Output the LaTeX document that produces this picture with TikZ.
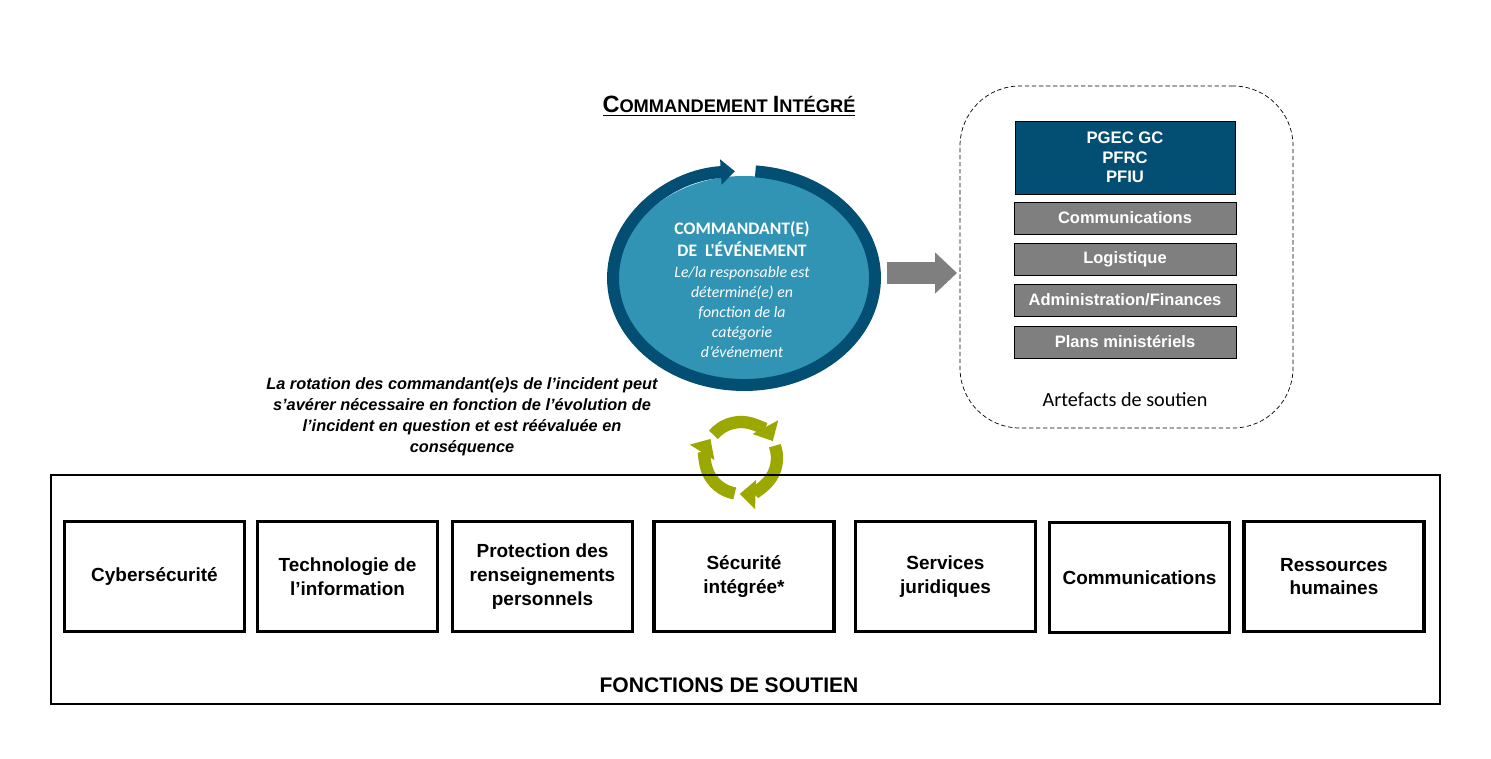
\documentclass[tikz,border=0pt]{standalone}
\usepackage{fontspec}
\setmainfont{Liberation Sans}
\newfontfamily\calib{Carlito}
\usetikzlibrary{arrows.meta,shapes.geometric}
\definecolor{bleufonce}{HTML}{034F73}
\definecolor{bleuclair}{HTML}{3194B5}
\definecolor{olive}{HTML}{9BA800}
\definecolor{grisbox}{HTML}{7F7F7F}
\tikzset{
  fonction/.style={draw,line width=1.8pt,minimum width=180*0.02cm,minimum height=110*0.02cm,
    align=center,font=\fontsize{10.8}{13.5}\selectfont\bfseries},
  artefact/.style={draw,fill=grisbox,text=white,minimum width=222*0.02cm,minimum height=32*0.02cm,
    font=\fontsize{9.4}{10}\selectfont\bfseries},
}
\begin{document}
\begin{tikzpicture}[x=0.02cm,y=-0.02cm]
\useasboundingbox (0,0) rectangle (1491,759);
% titre
\node[font=\bfseries] (titre) at (729,106) {\underline{{\fontsize{13.4}{14}\selectfont C}{\fontsize{10.4}{14}\selectfont OMMANDEMENT }{\fontsize{13.4}{14}\selectfont I}{\fontsize{10.4}{14}\selectfont NTÉGRÉ}}};
% commandant
\fill[bleuclair] (744,278) ellipse[x radius=126,y radius=102];
\draw[bleufonce,line width=6.8pt,-{Triangle[length=8pt,width=14pt]}] (744,278) ++(-85:131 and 107) arc[start angle=-85,end angle=266,x radius=131,y radius=107];
\node[ellipse,minimum width=274*0.02cm,minimum height=226*0.02cm] (cmd) at (744,278) {};
\node[text=white,align=center,font=\calib\fontsize{10}{12}\selectfont\bfseries] (cmdtitre) at (742,239) {COMMANDANT(E)\\DE \ L'ÉVÉNEMENT};
\node[text=white,align=center,font=\calib\fontsize{9}{11.5}\selectfont\itshape] (cmdtxt) at (742,312) {Le/la responsable est\\déterminé(e) en\\fonction de la\\catégorie\\d’événement};
% artefacts
\node[draw,dash pattern=on 2.5pt off 1.5pt,rounded corners=1.2cm,minimum width=333*0.02cm,minimum height=342*0.02cm] (artefacts) at (1126.5,257) {};
\coordinate (cmde) at (887,273);
\coordinate (artw) at (957,273);
\node[draw,fill=bleufonce,text=white,minimum width=220*0.02cm,minimum height=73*0.02cm,align=center,
  font=\fontsize{9.5}{11}\selectfont\bfseries] (pgec) at (1125,157.5) {PGEC GC\\PFRC\\PFIU};
\node[artefact] (comm) at (1125,218) {Communications};
\node[artefact] (logi) at (1125,259) {Logistique};
\node[artefact] (admin) at (1125,300) {Administration/Finances};
\node[artefact] (plans) at (1125,342) {Plans ministériels};
\node[font=\calib\fontsize{11.5}{12}\selectfont] (artlbl) at (1125,400) {Artefacts de soutien};
\draw[grisbox,line width=12.5pt,-{Triangle[length=12.5pt,width=22.7pt]}] (cmde) -- (artw);
% rotation
\node[align=center,font=\fontsize{9.3}{12}\selectfont\bfseries\itshape] (rot) at (462,417) {La rotation des commandant(e)s de l’incident peut\\s’avérer nécessaire en fonction de l’évolution de\\l’incident en question et est réévaluée en\\conséquence};
\foreach \a in {-140,-20,100}
  \draw[olive,line width=7pt,-{Triangle[length=9pt,width=16pt]}] (741,458) ++(\a:36) arc[start angle=\a,end angle=\a+112,radius=36];
% fonctions
\draw[line width=0.8pt] (51,475) rectangle (1440,704);
\node (cyber) at (154.5,576.5) [fonction] {Cybersécurité};
\node (techno) at (347.5,576.5) [fonction] {Technologie de\\l’information};
\node (protec) at (542.5,576.5) [fonction] {Protection des\\renseignements\\personnels};
\node (secur) at (744,576.5) [fonction] {Sécurité\\intégrée*};
\node (juri) at (945.5,576.5) [fonction] {Services\\juridiques};
\node (fcomm) at (1139.5,577.5) [fonction] {Communications};
\node (rh) at (1334,576.5) [fonction] {Ressources\\humaines};
\node[font=\fontsize{12}{12}\selectfont\bfseries] (fonctions) at (729,685) {FONCTIONS DE SOUTIEN};
\end{tikzpicture}
\end{document}
